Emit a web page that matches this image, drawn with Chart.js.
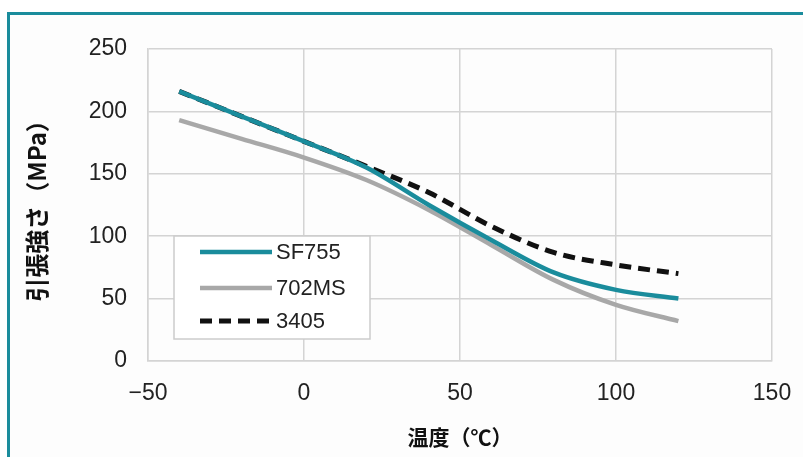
<!DOCTYPE html>
<html lang="ja">
<head>
  <meta charset="UTF-8" />
  <title>引張強さ</title>
  <script src="https://cdn.jsdelivr.net/npm/chart.js"></script>
  <style>
    html, body {
      margin: 0;
      padding: 0;
      background: #fff;
      overflow: hidden;
    }
    #frame {
      position: absolute;
      left: 7px;
      top: 12px;
      width: 900px;
      height: 600px;
      border-top: 3px solid #1a8c9c;
      border-left: 3px solid #1a8c9c;
      background: #fdfdfd;
    }
    #wrap {
      position: absolute;
      left: 0;
      top: 0;
      width: 803px;
      height: 457px;
    }
  </style>
</head>
<body>
  <div id="frame"></div>
  <div id="wrap"><canvas id="chart" width="803" height="457"></canvas></div>

  <script>
    // 温度 (℃)
    const temps = [-40, -20, 0, 20, 40, 60, 80, 100, 120];
    // 引張強さ (MPa)
    const sf755 = [216, 196, 176, 155, 125, 97, 71, 57, 50];
    const ms702 = [193, 178, 163, 145, 121, 93, 65, 45, 32];
    const s3405 = [216, 196, 176, 156, 135, 108, 87, 77, 70];

    const xTicks = [-50, 0, 50, 100, 150];
    const yTicks = [0, 50, 100, 150, 200, 250];

    const pts = arr => arr.map((v, i) => ({ x: temps[i], y: v }));

    // 凡例をプロット内に描く
    const boxLegend = {
      id: 'boxLegend',
      afterDatasetsDraw(chart) {
        const ctx = chart.ctx;
        const a = chart.chartArea;
        const x0 = a.left + 26, y0 = 236, w = 196, h = 103;
        ctx.save();
        ctx.fillStyle = '#ffffff';
        ctx.fillRect(x0, y0, w, h);
        ctx.strokeStyle = '#cccccc';
        ctx.lineWidth = 1.5;
        ctx.strokeRect(x0, y0, w, h);
        ctx.font = '22px "Liberation Sans", Arial, sans-serif';
        ctx.textBaseline = 'middle';
        const rows = [252, 288, 321];
        chart.data.datasets.forEach((ds, i) => {
          const y = rows[i];
          ctx.beginPath();
          ctx.strokeStyle = ds.borderColor;
          ctx.lineWidth = ds.borderWidth;
          ctx.setLineDash(ds.borderDash || []);
          ctx.moveTo(x0 + 26, y);
          ctx.lineTo(x0 + 98, y);
          ctx.stroke();
          ctx.setLineDash([]);
          ctx.fillStyle = '#222';
          ctx.fillText(ds.label, x0 + 102, y + 1);
        });
        ctx.restore();
      }
    };

    const ctx = document.getElementById('chart').getContext('2d');
    new Chart(ctx, {
      type: 'line',
      data: {
        datasets: [
          {
            label: 'SF755',
            data: pts(sf755),
            borderColor: '#1a8c9c',
            borderWidth: 4.5,
            cubicInterpolationMode: 'monotone',
            pointRadius: 0
          },
          {
            label: '702MS',
            data: pts(ms702),
            borderColor: '#a8a8a8',
            borderWidth: 4.5,
            cubicInterpolationMode: 'monotone',
            pointRadius: 0
          },
          {
            label: '3405',
            data: pts(s3405),
            borderColor: '#111111',
            borderWidth: 5,
            borderDash: [12, 7],
            cubicInterpolationMode: 'monotone',
            pointRadius: 0
          }
        ]
      },
      options: {
        responsive: false,
        animation: false,
        layout: {
          padding: { left: 18, right: 31, top: 49, bottom: 3 }
        },
        plugins: {
          legend: { display: false },
          tooltip: { enabled: false }
        },
        scales: {
          x: {
            type: 'linear',
            min: -50,
            max: 150,
            afterBuildTicks: s => { s.ticks = xTicks.map(v => ({ value: v })); },
            afterFit: s => { s.height = 93; s.paddingRight = 0; },
            grid: { color: '#d4d4d4', lineWidth: 1.5, drawTicks: false },
            border: { color: '#d4d4d4', width: 1.5 },
            ticks: {
              padding: 19,
              color: '#222',
              font: { family: '"Liberation Sans", Arial, sans-serif', size: 23 },
              callback: v => (v < 0 ? '\u2212' + Math.abs(v) : v)
            },
            title: {
              display: true,
              text: '温度（℃）',
              color: '#111',
              font: { family: '"Noto Sans CJK JP", sans-serif', size: 21, weight: 'bold' }
            }
          },
          y: {
            min: 0,
            max: 250,
            afterBuildTicks: s => { s.ticks = yTicks.map(v => ({ value: v })); },
            afterFit: s => { s.width = 130; },
            grid: { color: '#d4d4d4', lineWidth: 1.5, drawTicks: false },
            border: { color: '#d4d4d4', width: 1.5 },
            ticks: {
              padding: 21,
              color: '#222',
              font: { family: '"Liberation Sans", Arial, sans-serif', size: 23 }
            },
            title: {
              display: true,
              text: '引張強さ（MPa）',
              color: '#111',
              font: { family: '"Noto Sans CJK JP", sans-serif', size: 24, weight: 'bold' }
            }
          }
        }
      },
      plugins: [boxLegend]
    });
  </script>
</body>
</html>
